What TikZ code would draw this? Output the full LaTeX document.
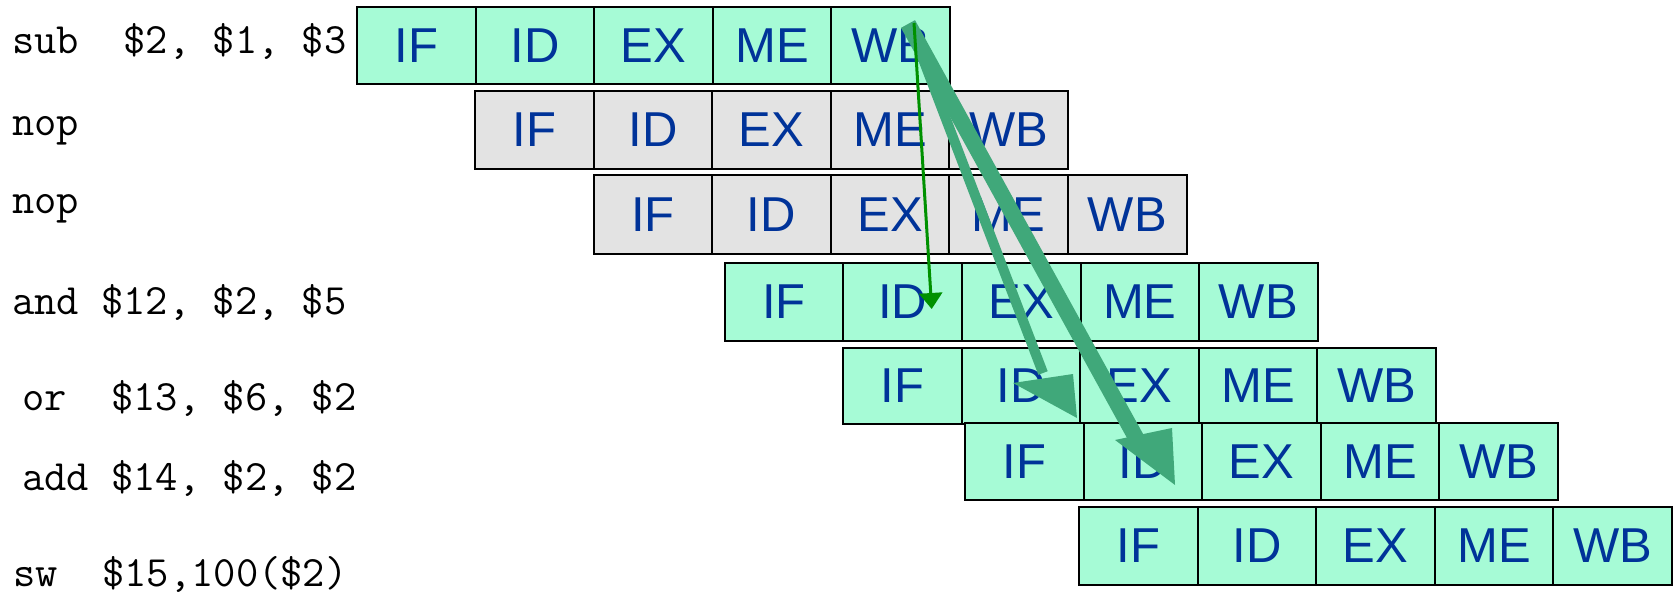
\documentclass[tikz,border=0pt]{standalone}
\usepackage{fontspec}
\setmainfont{Liberation Sans}
\usetikzlibrary{arrows.meta}
\definecolor{stagegreen}{RGB}{166,251,214}
\definecolor{stagegray}{RGB}{227,227,227}
\definecolor{stageblue}{RGB}{0,51,153}
\definecolor{fwdthin}{RGB}{0,145,0}
\definecolor{fwdthick}{RGB}{64,168,122}
\tikzset{
  stagebox/.style={draw=black, line width=1pt, rectangle, inner sep=0pt,
    minimum width=59.3pt, minimum height=38.5pt, anchor=north west,
    text=stageblue, font=\fontsize{24.5}{28}\selectfont},
  instr/.style={anchor=base west, inner sep=0pt, font=\ttfamily\fontsize{21.65}{24}\selectfont},
  thinfwd/.style={draw=fwdthin, line width=1.5pt, -{Triangle[length=8pt,width=11.5pt]}},
  thickfwd/.style={draw=fwdthick, line cap=butt},
  headfill/.style={fill=fwdthick, draw=none}
}
\begin{document}
\begin{tikzpicture}[x=0.5pt,y=-0.5pt]
\useasboundingbox[fill=white] (0,0) rectangle (1674,594);
% instruction labels
\node[instr] (i1) at (11.7,53.3) {sub~~\$2, \$1, \$3};
\node[instr] (i2) at (11.7,135) {nop};
\node[instr] (i3) at (11.7,213.3) {nop};
\node[instr] (i4) at (11.7,314) {and \$12, \$2, \$5};
\node[instr] (i5) at (21.7,410) {or~~\$13, \$6, \$2};
\node[instr] (i6) at (21.7,490) {add \$14, \$2, \$2};
\node[instr] (i7) at (12.7,586.7) {sw~~\$15,100(\$2)};
% pipeline stages
\foreach \r/\x/\y/\h/\f in {1/356/6/77/stagegreen, 2/474/90/78/stagegray, 3/592.5/174/79/stagegray,
  4/723.7/262/78/stagegreen, 5/842/347/76/stagegreen, 6/964/422/77/stagegreen, 7/1078/506/78/stagegreen}{
  \foreach \s [count=\i from 0] in {IF,ID,EX,ME,WB}{
    \node[stagebox, fill=\f, minimum height=\h*0.5pt] (r\r-\s) at ({\x+\i*118.6},\y) {\s};
  }
}
% forwarding arrows
\coordinate (srcA) at (908,24);
\coordinate (srcB) at (910,25);
\coordinate (srcC) at (914,23);
\coordinate (endA) at (1140,445);
\coordinate (endB) at (1043,373);
\coordinate (tipC) at (931.7,309);
\coordinate (hA1) at (1115,440);
\coordinate (hA2) at (1172,428);
\coordinate (hA3) at (1175,485);
\coordinate (hB1) at (1013,383);
\coordinate (hB2) at (1073,374);
\coordinate (hB3) at (1077,418);
\draw[thickfwd, line width=5pt] (srcB) -- (endB);
\fill[headfill] (hB1) -- (hB2) -- (hB3) -- cycle;
\draw[thickfwd, line width=8pt] (srcA) -- (endA);
\fill[headfill] (hA1) -- (hA2) -- (hA3) -- cycle;
\draw[thinfwd] (srcC) -- (tipC);
\end{tikzpicture}
\end{document}
